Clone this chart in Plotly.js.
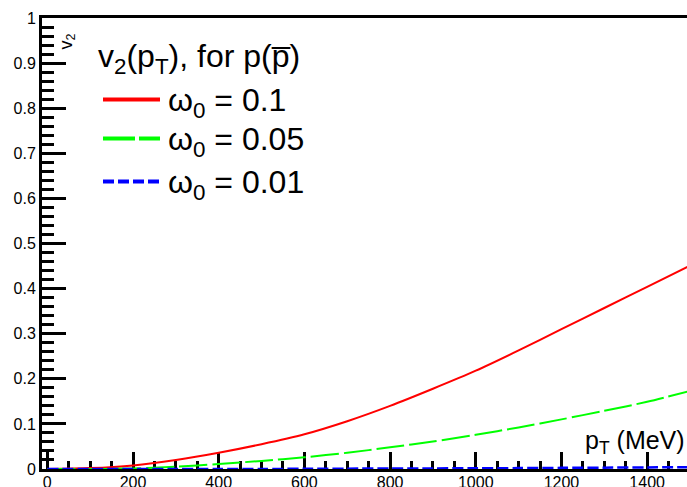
<!DOCTYPE html>
<html>
<head>
<meta charset="utf-8">
<script src="https://cdn.plot.ly/plotly-3.0.1.min.js"></script>
<style>html,body{margin:0;padding:0;background:#fff;}#chart{width:687px;height:487px;}</style>
</head>
<body>
<div id="chart"></div>
<script>
// ---- data ----
var pT = [0, 100, 200, 300, 400, 500, 600, 700, 800, 900, 1000, 1100, 1200, 1300, 1400, 1500];
var v2_w010 = [0, 0.002, 0.008, 0.020, 0.036, 0.055, 0.077, 0.106, 0.140, 0.178, 0.218, 0.263, 0.310, 0.357, 0.404, 0.451];
var v2_w005 = [0, 0.000, 0.001, 0.005, 0.011, 0.018, 0.026, 0.036, 0.048, 0.061, 0.076, 0.092, 0.110, 0.129, 0.149, 0.173];
var v2_w001 = [0, 0.000, 0.000, 0.000, 0.000, 0.000, 0.0005, 0.0008, 0.001, 0.0013, 0.0016, 0.002, 0.0025, 0.003, 0.0035, 0.004];
var seriesNames = ["\u03c9<sub>0</sub> = 0.1", "\u03c9<sub>0</sub> = 0.05", "\u03c9<sub>0</sub> = 0.01"];
var seriesColors = ["#ff0000", "#00ff00", "#0000ff"];
var legendTitle = "v<sub>2</sub>(p<sub>T</sub>), for p(p\u0305)";
var xTitle = "p<sub>T</sub> (MeV)";
var yTitle = "v<sub>2</sub>";

// ---- layout geometry ----
var W = 687, H = 487;
var M = {l: 42, r: 0, t: 17.5, b: 18.25};
var pw = W - M.l - M.r, ph = H - M.t - M.b;
function fx(px) { return (px - M.l) / pw; }
function fy(py) { return (H - M.b - py) / ph; }

var FONT = "Liberation Sans, Arial, Helvetica, sans-serif";

var traces = [
  {x: pT, y: v2_w010, mode: "lines", line: {color: seriesColors[0], width: 2, shape: "spline", smoothing: 0.8}, name: seriesNames[0]},
  {x: pT, y: v2_w005, mode: "lines", line: {color: seriesColors[1], width: 2, dash: "28px,5px", shape: "spline", smoothing: 0.8}, name: seriesNames[1]},
  {x: pT, y: v2_w001, mode: "lines", line: {color: seriesColors[2], width: 2.5, dash: "11px,4px", shape: "spline", smoothing: 0.8}, name: seriesNames[2]}
];

var legY = [99, 138, 181];
var legDash = ["solid", "32px,4px", "11px,4px"];
var shapes = [], annotations = [];
for (var i = 0; i < 3; i++) {
  shapes.push({type: "line", xref: "paper", yref: "paper", x0: fx(103), x1: fx(160), y0: fy(legY[i]), y1: fy(legY[i]),
    line: {color: seriesColors[i], width: 4, dash: legDash[i]}});
  annotations.push({xref: "paper", yref: "paper", x: fx(166), y: fy(legY[i] + 3), xanchor: "left", yanchor: "middle",
    text: seriesNames[i], showarrow: false, font: {family: FONT, size: 32, color: "#000"}});
}
annotations.push({xref: "paper", yref: "paper", x: fx(96), y: fy(58), xanchor: "left", yanchor: "middle",
  text: legendTitle, showarrow: false, font: {family: FONT, size: 32, color: "#000"}});
annotations.push({xref: "paper", yref: "paper", x: 1, y: fy(442), xanchor: "right", yanchor: "middle",
  text: xTitle, showarrow: false, font: {family: FONT, size: 25, color: "#000"}});
annotations.push({xref: "paper", yref: "paper", x: fx(67), y: fy(41), xanchor: "center", yanchor: "middle",
  text: yTitle, textangle: -90, showarrow: false, font: {family: FONT, size: 18, color: "#000"}});

var layout = {
  width: W, height: H,
  margin: M,
  paper_bgcolor: "#fff", plot_bgcolor: "#fff",
  showlegend: false,
  font: {family: FONT, color: "#000"},
  xaxis: {
    range: [-12.4, 1493], tick0: 0, dtick: 200, ticks: "inside", ticklen: 17, tickwidth: 3, tickcolor: "#000",
    showline: true, linewidth: 3, linecolor: "#000", mirror: true, showgrid: false, zeroline: false,
    tickfont: {family: FONT, size: 16, color: "#000"}, ticklabelstandoff: -3,
    minor: {dtick: 50, ticks: "inside", ticklen: 8, tickwidth: 3, tickcolor: "#000", showgrid: false},
    layer: "below traces"
  },
  yaxis: {
    range: [0, 1], tick0: 0, dtick: 0.1, ticks: "inside", ticklen: 24, tickwidth: 3, tickcolor: "#000",
    showline: true, linewidth: 3, linecolor: "#000", showgrid: false, zeroline: false,
    tickfont: {family: FONT, size: 16, color: "#000"},
    minor: {dtick: 0.02, ticks: "inside", ticklen: 12, tickwidth: 3, tickcolor: "#000", showgrid: false},
    layer: "below traces"
  },
  shapes: shapes,
  annotations: annotations
};

Plotly.newPlot("chart", traces, layout, {displayModeBar: false, staticPlot: true});
</script>
</body>
</html>
